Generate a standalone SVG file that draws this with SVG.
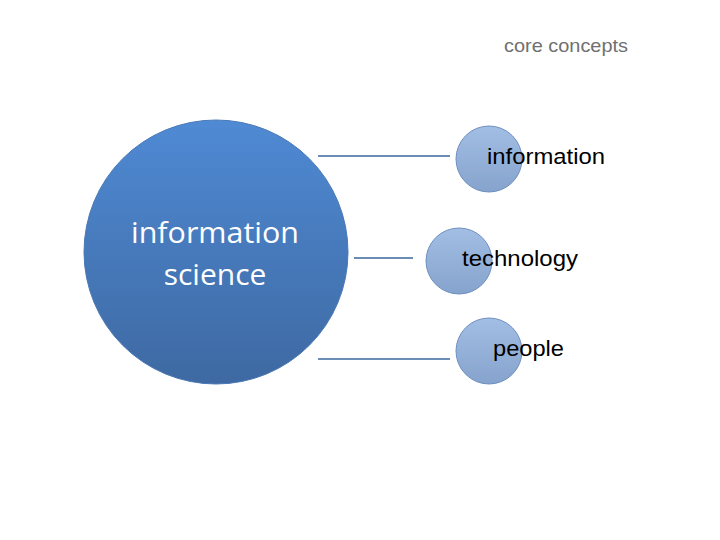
<svg xmlns="http://www.w3.org/2000/svg" width="720" height="540" viewBox="0 0 720 540">
<defs>
<linearGradient id="gBig" x1="0" y1="0" x2="0" y2="1">
<stop offset="0" stop-color="#4F8AD4"/>
<stop offset="1" stop-color="#3E69A2"/>
</linearGradient>
<linearGradient id="gSmall" x1="0" y1="0" x2="0" y2="1">
<stop offset="0" stop-color="#A2BEE4"/>
<stop offset="1" stop-color="#86A3CD"/>
</linearGradient>
<style>
.conn{stroke:#6B8CB4;stroke-width:2;fill:none}
.small{fill:url(#gSmall);stroke:#6E8FBF;stroke-width:1}
.lbl{font-family:"Liberation Sans",Arial,sans-serif;font-size:22px;fill:#000}
.big{font-family:"Open Sans","Noto Sans",sans-serif;font-size:30px;fill:#fff;text-anchor:middle}
</style>
</defs>
<rect width="720" height="540" fill="#fff"/>
<text x="504" y="52" font-family="Liberation Sans,Arial,sans-serif" font-size="18.5" fill="#707070" textLength="124" lengthAdjust="spacingAndGlyphs">core concepts</text>
<g id="connectors">
<line class="conn" x1="318" y1="156" x2="450" y2="156"/>
<line class="conn" x1="354" y1="258" x2="413" y2="258"/>
<line class="conn" x1="318" y1="359" x2="450" y2="359"/>
</g>
<g id="node-infosci">
<circle cx="216" cy="252" r="132" fill="url(#gBig)" stroke="#4A79B5" stroke-width="1"/>
<text class="big" x="215" y="243" textLength="168" lengthAdjust="spacingAndGlyphs">information</text>
<text class="big" x="215" y="285">science</text>
</g>
<g id="node-information">
<circle class="small" cx="489" cy="159" r="33"/>
<text class="lbl" x="487" y="164" textLength="118" lengthAdjust="spacingAndGlyphs">information</text>
</g>
<g id="node-technology">
<circle class="small" cx="459" cy="261" r="33"/>
<text class="lbl" x="462" y="266" textLength="116" lengthAdjust="spacingAndGlyphs">technology</text>
</g>
<g id="node-people">
<circle class="small" cx="489" cy="351" r="33"/>
<text class="lbl" x="493" y="356" textLength="71" lengthAdjust="spacingAndGlyphs">people</text>
</g>
</svg>
